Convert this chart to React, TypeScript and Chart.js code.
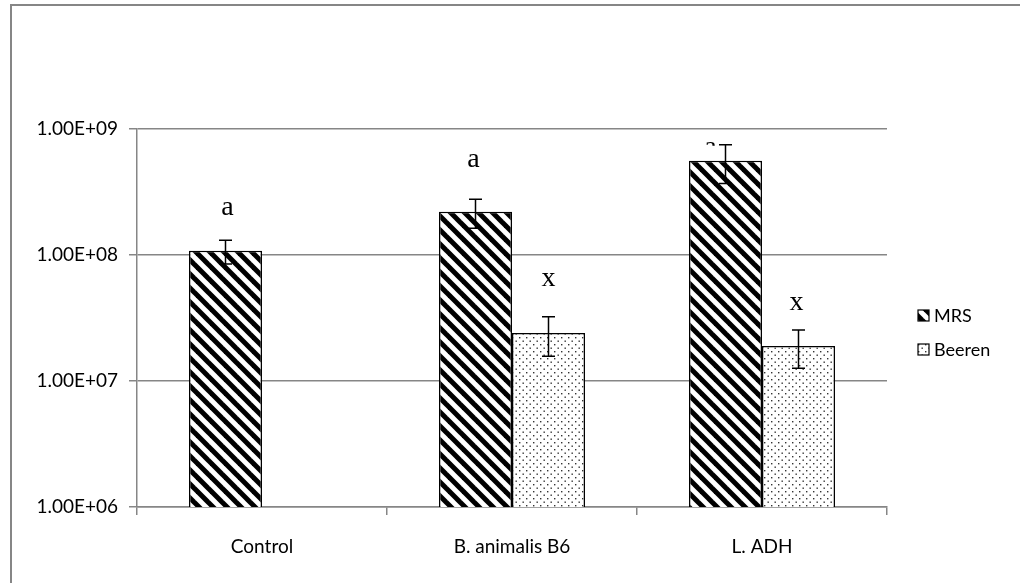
import React, { useEffect, useRef } from "react";
import { Chart, registerables } from "chart.js";

Chart.register(...registerables);

const categories = ["Control", "B. animalis B6", "L. ADH"];
const seriesNames = ["MRS", "Beeren"];
const mrsValues = [1.08e8, 2.2e8, 5.6e8];
const mrsErrors = [0.23e8, 0.57e8, 1.9e8];
const beerenValues: (number | null)[] = [null, 2.4e7, 1.9e7];
const beerenErrors: (number | null)[] = [null, 0.83e7, 0.64e7];
const mrsLetters = ["a", "a", "a"];
const beerenLetters = ["", "x", "x"];
const yTickValues = [1e6, 1e7, 1e8, 1e9];

// style: gap (px) between error-bar top and letter baseline, and x shift
const mrsLetterGaps = [25.5, 32.5, -10];
const mrsLetterShift = [2, -2, -15];
const beerenLetterGaps = [0, 30.5, 19.5];
const beerenLetterShift = [0, 0, -2];

const GREY = "#868686";
const TICK_FONT = { family: "Lato, 'Open Sans', sans-serif", size: 19 };

function fmtExp(v: number): string {
  const e = Math.round(Math.log10(v));
  const m = v / Math.pow(10, e);
  const sign = e < 0 ? "-" : "+";
  return m.toFixed(2) + "E" + sign + String(Math.abs(e)).padStart(2, "0");
}

function stripePattern(ctx: CanvasRenderingContext2D): CanvasPattern {
  const P = 14;
  const c = document.createElement("canvas");
  c.width = P;
  c.height = P;
  const g = c.getContext("2d")!;
  g.fillStyle = "#fff";
  g.fillRect(0, 0, P, P);
  g.strokeStyle = "#000";
  g.lineWidth = 5;
  for (const o of [-P, 0, P]) {
    g.beginPath();
    g.moveTo(o - 2, -2);
    g.lineTo(o + P + 2, P + 2);
    g.stroke();
  }
  return ctx.createPattern(c, "repeat")!;
}

function dotPattern(ctx: CanvasRenderingContext2D): CanvasPattern {
  const c = document.createElement("canvas");
  c.width = 7;
  c.height = 7;
  const g = c.getContext("2d")!;
  g.fillStyle = "#fff";
  g.fillRect(0, 0, 7, 7);
  g.fillStyle = "#333";
  g.fillRect(1, 1, 1.4, 1.4);
  g.fillRect(4.5, 4.5, 1.4, 1.4);
  return ctx.createPattern(c, "repeat")!;
}

export default function App() {
  const ref = useRef<HTMLCanvasElement>(null);

  useEffect(() => {
    const canvas = ref.current!;
    const ctx = canvas.getContext("2d")!;
    const stripes = stripePattern(ctx);
    const dots = dotPattern(ctx);

    const overlay = {
      id: "overlay",
      beforeDraw(chart: any) {
        const c = chart.ctx;
        c.save();
        c.fillStyle = "#fff";
        c.fillRect(0, 0, chart.width, chart.height);
        c.strokeStyle = GREY;
        c.lineWidth = 2;
        c.strokeRect(11, 5, chart.width + 20, chart.height + 20);
        c.restore();
      },
      afterDatasetsDraw(chart: any) {
        const c = chart.ctx;
        const y = chart.scales.y;
        const sets = [
          { vals: mrsValues, errs: mrsErrors, letters: mrsLetters, gaps: mrsLetterGaps, shifts: mrsLetterShift },
          { vals: beerenValues, errs: beerenErrors, letters: beerenLetters, gaps: beerenLetterGaps, shifts: beerenLetterShift },
        ];
        c.save();
        sets.forEach((s, di) => {
          const meta = chart.getDatasetMeta(di);
          s.vals.forEach((v: number | null, i: number) => {
            const e = s.errs[i];
            if (v == null || e == null) return;
            const x = meta.data[i].x;
            const yt = y.getPixelForValue(v + e);
            const yb = y.getPixelForValue(v - e);
            c.strokeStyle = "#000";
            c.lineWidth = 1.5;
            c.beginPath();
            c.moveTo(x, yt);
            c.lineTo(x, yb);
            c.moveTo(x - 6.5, yt);
            c.lineTo(x + 6.5, yt);
            c.moveTo(x - 6.5, yb);
            c.lineTo(x + 6.5, yb);
            c.stroke();
            const letter = s.letters[i];
            if (letter) {
              c.save();
              const gap = s.gaps[i];
              if (gap < 0) {
                c.beginPath();
                c.rect(0, 0, chart.width, yt + 1);
                c.clip();
              }
              c.fillStyle = "#000";
              c.font = "28px 'Liberation Serif', 'Times New Roman', serif";
              c.textAlign = "center";
              c.textBaseline = "alphabetic";
              c.fillText(letter, x + s.shifts[i], yt - gap);
              c.restore();
            }
          });
        });
        // legend
        const lx = 918;
        const items = [
          { label: seriesNames[0], fill: stripes, y: 316 },
          { label: seriesNames[1], fill: dots, y: 350 },
        ];
        items.forEach((it) => {
          c.fillStyle = it.fill;
          c.fillRect(lx, it.y - 6, 11, 11);
          c.strokeStyle = "#000";
          c.lineWidth = 1.2;
          c.strokeRect(lx, it.y - 6, 11, 11);
          c.fillStyle = "#000";
          c.font = "18px Lato, 'Open Sans', sans-serif";
          c.textAlign = "left";
          c.textBaseline = "middle";
          c.fillText(it.label, lx + 16, it.y);
        });
        c.restore();
      },
    };

    const chart = new Chart(ctx, {
      type: "bar",
      data: {
        labels: categories,
        datasets: [
          {
            label: seriesNames[0],
            data: mrsValues,
            backgroundColor: stripes,
            borderColor: "#000",
            borderWidth: 1.5,
            categoryPercentage: 0.584,
            barPercentage: 1,
          },
          {
            label: seriesNames[1],
            data: beerenValues,
            backgroundColor: dots,
            borderColor: "#000",
            borderWidth: 1.5,
            categoryPercentage: 0.584,
            barPercentage: 1,
          },
        ],
      },
      options: {
        animation: false,
        responsive: false,
        devicePixelRatio: 1,
        layout: { padding: { top: 129, right: 133, left: 0, bottom: 0 } },
        plugins: { legend: { display: false }, tooltip: { enabled: false } },
        scales: {
          x: {
            grid: {
              drawOnChartArea: false,
              offset: true,
              tickLength: 8,
              color: GREY,
              lineWidth: 1.5,
            },
            border: { color: GREY, width: 1.5 },
            ticks: { font: TICK_FONT, color: "#000", padding: 20 },
            afterFit: (s: any) => {
              s.height = 76;
            },
          },
          y: {
            type: "logarithmic",
            min: 1e6,
            max: 1e9,
            afterBuildTicks: (s: any) => {
              s.ticks = yTickValues.map((v) => ({ value: v }));
            },
            ticks: {
              font: TICK_FONT,
              color: "#000",
              padding: 11,
              callback: (v: any) => fmtExp(Number(v)),
            },
            grid: { color: GREY, lineWidth: 1.5, tickLength: 8 },
            border: { color: GREY, width: 1.5 },
            afterFit: (s: any) => {
              s.width = 137;
            },
          },
        },
      },
      plugins: [overlay],
    });
    return () => chart.destroy();
  }, []);

  return (
    <div style={{ position: "fixed", left: 0, top: 0, width: 1020, height: 583 }}>
      <canvas ref={ref} width={1020} height={583} style={{ width: 1020, height: 583 }} />
    </div>
  );
}
